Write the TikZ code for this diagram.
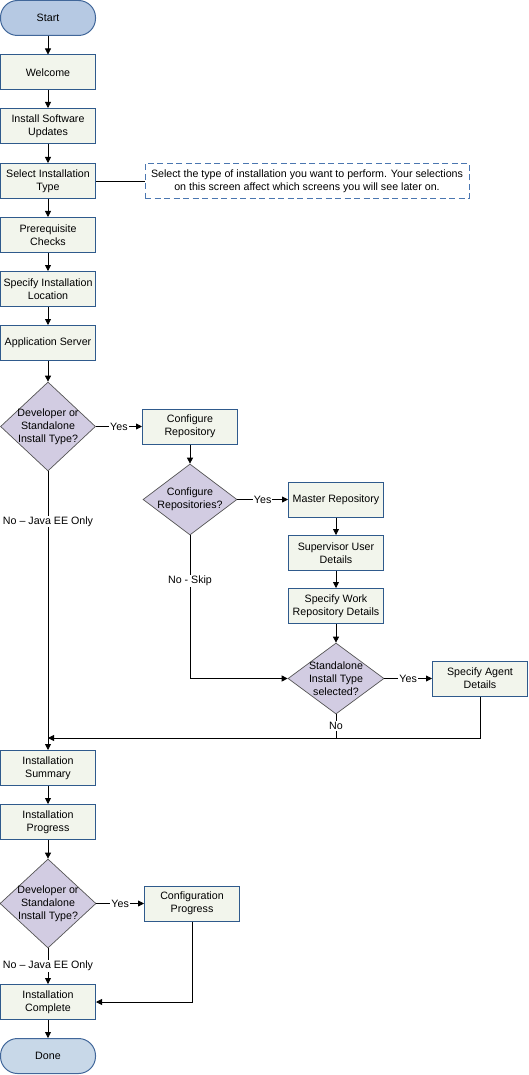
\documentclass[tikz,border=0pt]{standalone}
\usepackage{fontspec}
\setmainfont{Liberation Sans}
\usetikzlibrary{shapes.geometric,arrows.meta}

\definecolor{boxfill}{HTML}{F2F5EC}
\definecolor{boxline}{HTML}{2F5A8C}
\definecolor{startfill}{HTML}{B6C9E3}
\definecolor{donefill}{HTML}{C8D8E8}
\definecolor{termline}{HTML}{41679A}
\definecolor{diamfill}{HTML}{D2CCE2}
\definecolor{diamline}{HTML}{555555}
\definecolor{noteline}{HTML}{4A76B0}

\begin{document}
\begin{tikzpicture}[x=1pt, y=-1pt,
		font=\fontsize{10.67}{13}\selectfont,
		process/.style={draw=boxline, fill=boxfill, line width=1pt, minimum width=95pt, minimum height=35pt, align=center, inner sep=1pt},
		terminal/.style={draw=termline, line width=1pt, rounded corners=17pt, minimum width=95pt, minimum height=35pt},
		decision/.style={diamond, draw=diamline, fill=diamfill, line width=0.7pt, inner sep=0pt},
		flow/.style={-{Triangle[length=6pt,width=6pt]}, line width=0.8pt},
		lbl/.style={fill=white, inner sep=1pt}]
		\useasboundingbox (0,0) rectangle (529,1075);

		% основная колонка
		\node [terminal, fill=startfill] (start) at ( 48, 18 ) {Start};
		\node [process] (welcome) at ( 48, 72.5 ) {Welcome};
		\node [process] (updates) at ( 48, 126 ) {Install Software\\Updates};
		\node [process] (select) at ( 48, 181 ) {Select Installation\\Type};
		\node [process] (prereq) at ( 48, 235 ) {Prerequisite\\Checks};
		\node [process] (location) at ( 48, 289 ) {Specify Installation\\Location};
		\node [process] (appserver) at ( 48, 343 ) {Application Server};
		\node [decision, minimum width=95pt, minimum height=89pt, label={[align=center]center:Developer or\\Standalone\\Install Type?}] (devtype) at ( 48, 426.5 ) {};

		% примечание
		\node [draw=noteline, dash pattern=on 6pt off 3.5pt, line width=0.8pt, minimum width=324pt, minimum height=35pt, align=center] (note) at ( 307, 181 ) {Select the type of installation you want to perform. Your selections\\on this screen affect which screens you will see later on.};

		% репозитории
		\node [process] (confrepo) at ( 190, 426.5 ) {Configure\\Repository};
		\node [decision, minimum width=94pt, minimum height=71pt, label={[align=center]center:Configure\\Repositories?}] (repos) at ( 190, 499.5 ) {};
		\node [process] (master) at ( 336, 499.5 ) {Master Repository};
		\node [process] (supervisor) at ( 336, 553 ) {Supervisor User\\Details};
		\node [process] (work) at ( 336, 606 ) {Specify Work\\Repository Details};
		\node [decision, minimum width=96pt, minimum height=71pt, label={[align=center]center:Standalone\\Install Type\\selected?}] (standalone) at ( 336, 678.5 ) {};
		\node [process] (agent) at ( 480, 678.5 ) {Specify Agent\\Details};
		\coordinate (merge) at ( 48, 738 );

		% завершение
		\node [process] (summary) at ( 48, 768 ) {Installation\\Summary};
		\node [process] (progress) at ( 48, 822 ) {Installation\\Progress};
		\node [decision, minimum width=96pt, minimum height=89pt, label={[align=center]center:Developer or\\Standalone\\Install Type?}] (devtype2) at ( 48, 903.5 ) {};
		\node [process] (confprog) at ( 192, 903.5 ) {Configuration\\Progress};
		\node [process] (complete) at ( 48, 1002 ) {Installation\\Complete};
		\node [terminal, fill=donefill] (done) at ( 48, 1056 ) {Done};

		% связи
		\draw [flow] (start) -- (welcome);
		\draw [flow] (welcome) -- (updates);
		\draw [flow] (updates) -- (select);
		\draw [flow] (select) -- (prereq);
		\draw [flow] (prereq) -- (location);
		\draw [flow] (location) -- (appserver);
		\draw [flow] (appserver) -- (devtype);
		\draw [line width=0.8pt] (select) -- (note);
		\draw [flow] (devtype) -- node [lbl] {Yes} (confrepo);
		\draw [flow] (devtype) -- node [lbl, pos=0.18] {No -- Java EE Only} (summary);
		\draw [flow] (confrepo) -- (repos);
		\draw [flow] (repos) -- node [lbl] {Yes} (master);
		\draw [flow] (repos) |- node [lbl, pos=0.16] {No - Skip} (standalone);
		\draw [flow] (master) -- (supervisor);
		\draw [flow] (supervisor) -- (work);
		\draw [flow] (work) -- (standalone);
		\draw [flow] (standalone) -- node [lbl] {Yes} (agent);
		\draw [line width=0.8pt] (standalone) -- node [lbl] {No} (standalone |- merge);
		\draw [flow] (agent) |- (merge);
		\draw [flow] (summary) -- (progress);
		\draw [flow] (progress) -- (devtype2);
		\draw [flow] (devtype2) -- node [lbl] {Yes} (confprog);
		\draw [flow] (devtype2) -- node [lbl] {No -- Java EE Only} (complete);
		\draw [flow] (confprog) |- (complete);
		\draw [flow] (complete) -- (done);
	\end{tikzpicture}
\end{document}
